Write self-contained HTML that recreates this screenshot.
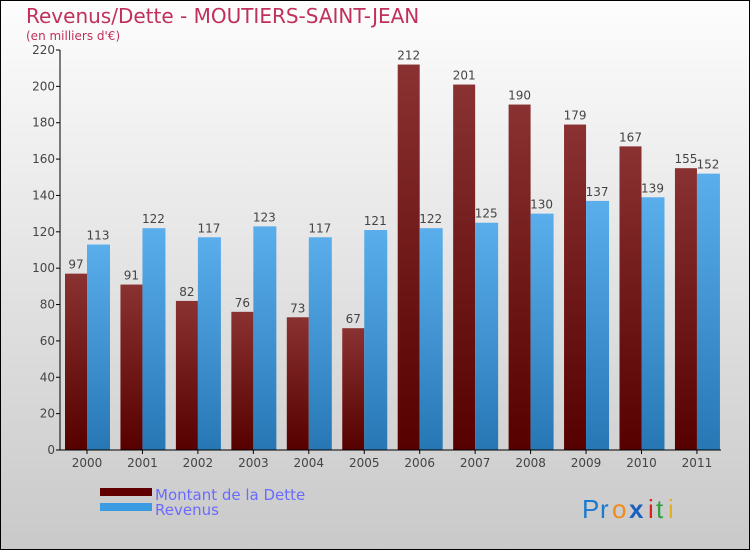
<!DOCTYPE html>
<html><head><meta charset="utf-8"><style>
body{margin:0}
#c{width:750px;height:550px;position:relative;font-family:"DejaVu Sans","Liberation Sans",sans-serif}
</style></head><body>
<div id="c">
<svg id="s" width="750" height="550" xmlns="http://www.w3.org/2000/svg">
<defs>
<linearGradient id="bg" x1="0" y1="0" x2="0" y2="1"><stop offset="0" stop-color="#fdfdfd"/><stop offset="1" stop-color="#c9c9c9"/></linearGradient>
<linearGradient id="gd" x1="0" y1="0" x2="0" y2="1"><stop offset="0" stop-color="#8a3232"/><stop offset="1" stop-color="#560000"/></linearGradient>
<linearGradient id="gr" x1="0" y1="0" x2="0" y2="1"><stop offset="0" stop-color="#5aaeec"/><stop offset="1" stop-color="#2777b5"/></linearGradient>
</defs>
<rect x="0.5" y="0.5" width="749" height="549" fill="url(#bg)" stroke="#000"/>
<text x="26" y="23" font-size="20" fill="#c0305a">Revenus/Dette - MOUTIERS-SAINT-JEAN</text>
<text x="26" y="40" font-size="12" fill="#c0305a">(en milliers d'€)</text>
<g id="plot"></g>
<rect x="100" y="488" width="52" height="8" fill="#600000"/>
<text x="155" y="500" font-size="15" fill="#6a6aff">Montant de la Dette</text>
<rect x="100" y="503" width="52" height="8" fill="#3a9be0"/>
<text x="155" y="515" font-size="15" fill="#6a6aff">Revenus</text>
<g font-size="26" font-family="'Liberation Sans',sans-serif">
<text x="582" y="518" fill="#1a7ad0">P</text><text x="600" y="518" fill="#1a7ad0">r</text><text x="612" y="518" fill="#f08a1a">o</text><text x="629" y="518" fill="#1a5fc0" font-weight="bold">x</text><text x="648" y="518" fill="#e02020">i</text><text x="656" y="518" fill="#30a040">t</text><text x="668" y="518" fill="#e0b020">i</text>
</g>
</svg>
</div>
<script>
const years=["2000","2001","2002","2003","2004","2005","2006","2007","2008","2009","2010","2011"];
const dette=[97,91,82,76,73,67,212,201,190,179,167,155];
const revenus=[113,122,117,123,117,121,122,125,130,137,139,152];
const yTicks=[0,20,40,60,80,100,120,140,160,180,200,220];
const NS="http://www.w3.org/2000/svg";
const g=document.getElementById('plot');
const x0=60,x1=721,yb=450,yt=50,ymax=220,pitch=55.45,bw=22;
function y(v){return yb-(v/ymax)*(yb-yt);}
function gx(i){return 65+i*pitch;}
function mk(t,a,txt){const e=document.createElementNS(NS,t);for(const k in a)e.setAttribute(k,a[k]);if(txt!==undefined)e.textContent=txt;g.appendChild(e);return e;}
yTicks.forEach(v=>{
 const l=mk('line',{x1:x0-4,x2:x0,y1:y(v),y2:y(v),stroke:'#000'});
 
 
 const t=mk('text',{x:x0-5,y:y(v)+4,'font-size':12,fill:'#444','text-anchor':'end'},v);
 
 
});
years.forEach((yr,i)=>{
 const a=mk('rect',{x:gx(i),y:y(dette[i]),width:bw,height:yb-y(dette[i]),fill:'url(#gd)'});
 
 
 const b=mk('rect',{x:gx(i)+bw,y:y(revenus[i]),width:bw+1,height:yb-y(revenus[i]),fill:'url(#gr)'});
 
 
 const ta=mk('text',{x:gx(i)+bw/2,y:y(dette[i])-5,'font-size':12,fill:'#444','text-anchor':'middle'},dette[i]);
 
 
 const tb=mk('text',{x:gx(i)+bw*1.5,y:y(revenus[i])-5,'font-size':12,fill:'#444','text-anchor':'middle'},revenus[i]);
 
 
 const tk=mk('line',{x1:gx(i)+bw,x2:gx(i)+bw,y1:yb,y2:yb+4,stroke:'#000'});
 
 
 const tl=mk('text',{x:gx(i)+bw,y:yb+17,'font-size':12,fill:'#444','text-anchor':'middle'},yr);
 
 
});
const ax=mk('line',{x1:x0,x2:x0,y1:yt,y2:yb,stroke:'#000'});


const axx=mk('line',{x1:x0,x2:x1,y1:yb,y2:yb,stroke:'#000'});


</script>
</body></html>
